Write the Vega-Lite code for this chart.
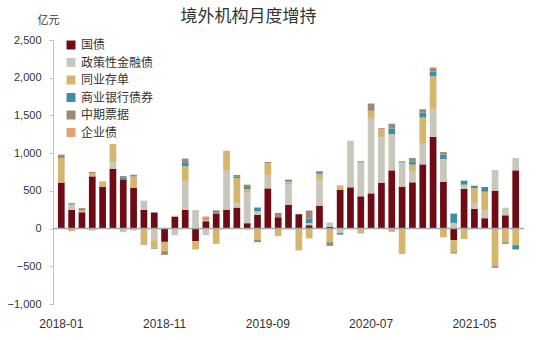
{
  "$schema": "https://vega.github.io/schema/vega-lite/v6.json",
  "width": 471,
  "height": 264,
  "autosize": "none",
  "padding": {"left": 53, "top": 40, "right": 26, "bottom": 36},
  "background": "white",
  "title": {"text": "境外机构月度增持", "font": "Noto Sans CJK SC", "fontSize": 17, "fontWeight": "normal", "color": "#333333", "anchor": "middle", "dx": -40, "offset": -12},
  "config": {"view": {"stroke": null}},
  "data": {"values": [
    {"m": "2018-01", "国债": 610, "同业存单": 325, "中期票据": 45},
    {"m": "2018-02", "国债": 247, "政策性金融债": 70, "中期票据": 20, "同业存单": -35},
    {"m": "2018-03", "国债": 216, "同业存单": 30, "中期票据": 25},
    {"m": "2018-04", "国债": 692, "同业存单": 44, "中期票据": 15, "政策性金融债": -30},
    {"m": "2018-05", "国债": 551, "同业存单": 75},
    {"m": "2018-06", "国债": 794, "政策性金融债": 84, "同业存单": 242},
    {"m": "2018-07", "国债": 652, "商业银行债券": 20, "中期票据": 25, "政策性金融债": -48},
    {"m": "2018-08", "国债": 538, "同业存单": 150, "中期票据": 26, "政策性金融债": -25},
    {"m": "2018-09", "国债": 247, "政策性金融债": 123, "同业存单": -203, "中期票据": -10},
    {"m": "2018-10", "国债": 212, "政策性金融债": -154, "同业存单": -101, "中期票据": -13},
    {"m": "2018-11", "国债": -176, "同业存单": -123, "中期票据": -50},
    {"m": "2018-12", "国债": 154, "同业存单": 17, "政策性金融债": -88},
    {"m": "2019-01", "国债": 247, "政策性金融债": 380, "同业存单": 200, "商业银行债券": 53, "中期票据": 48},
    {"m": "2019-02", "国债": -168, "政策性金融债": 229, "同业存单": -110, "中期票据": 10},
    {"m": "2019-03", "国债": 97, "同业存单": 25, "中期票据": 25, "企业债": 15, "政策性金融债": -88},
    {"m": "2019-04", "国债": 194, "中期票据": 48, "同业存单": -203},
    {"m": "2019-05", "国债": 251, "政策性金融债": 516, "同业存单": 265},
    {"m": "2019-06", "国债": 278, "政策性金融债": 53, "同业存单": 340, "商业银行债券": 22, "中期票据": 18},
    {"m": "2019-07", "国债": 71, "政策性金融债": 410, "同业存单": 44, "商业银行债券": 26, "中期票据": 31, "企业债": -12},
    {"m": "2019-08", "国债": 181, "政策性金融债": 48, "商业银行债券": 50, "同业存单": -145, "中期票据": -35},
    {"m": "2019-09", "国债": 533, "政策性金融债": 168, "同业存单": 168, "中期票据": 13},
    {"m": "2019-10", "国债": 150, "中期票据": 57, "同业存单": -101},
    {"m": "2019-11", "国债": 313, "政策性金融债": 278, "同业存单": 35, "商业银行债券": 22, "企业债": -10},
    {"m": "2019-12", "国债": 190, "同业存单": -291},
    {"m": "2020-01", "国债": 44, "政策性金融债": 30, "商业银行债券": 55, "中期票据": 110, "同业存单": -132},
    {"m": "2020-02", "国债": 304, "政策性金融债": 353, "同业存单": 70, "商业银行债券": 31},
    {"m": "2020-03", "国债": 25, "政策性金融债": 55, "同业存单": -180, "中期票据": -50},
    {"m": "2020-04", "国债": 516, "同业存单": 57, "政策性金融债": -60, "商业银行债券": -20},
    {"m": "2020-05", "国债": 547, "政策性金融债": 617, "同业存单": -10},
    {"m": "2020-06", "国债": 428, "政策性金融债": 450, "商业银行债券": 13, "同业存单": -66},
    {"m": "2020-07", "国债": 467, "政策性金融债": 997, "同业存单": 97, "中期票据": 97},
    {"m": "2020-08", "国债": 608, "政策性金融债": 600, "同业存单": 115, "中期票据": 10},
    {"m": "2020-09", "国债": 772, "政策性金融债": 481, "商业银行债券": 75, "中期票据": 62, "同业存单": -44},
    {"m": "2020-10", "国债": 556, "政策性金融债": 322, "商业银行债券": 13, "同业存单": -322, "中期票据": -10},
    {"m": "2020-11", "国债": 613, "政策性金融债": 150, "同业存单": 84, "商业银行债券": 44, "中期票据": 44},
    {"m": "2020-12", "国债": 851, "政策性金融债": 273, "同业存单": 348, "商业银行债券": 66, "中期票据": 44},
    {"m": "2021-01", "国债": 1217, "政策性金融债": 370, "同业存单": 432, "商业银行债券": 62, "中期票据": 53},
    {"m": "2021-02", "国债": 622, "政策性金融债": 300, "商业银行债券": 57, "中期票据": 35, "同业存单": -115},
    {"m": "2021-03", "国债": -154, "政策性金融债": 75, "商业银行债券": 123, "同业存单": -159, "中期票据": -18},
    {"m": "2021-04", "国债": 525, "政策性金融债": 57, "商业银行债券": 53, "同业存单": -137},
    {"m": "2021-05", "国债": 260, "政策性金融债": 70, "同业存单": 207, "商业银行债券": 31},
    {"m": "2021-06", "国债": 137, "政策性金融债": 101, "同业存单": 251, "商业银行债券": 62},
    {"m": "2021-07", "国债": 503, "政策性金融债": 256, "商业银行债券": 9, "同业存单": -498, "中期票据": -22},
    {"m": "2021-08", "国债": 176, "政策性金融债": 101, "同业存单": -181, "中期票据": -22},
    {"m": "2021-09", "国债": 772, "政策性金融债": 163, "同业存单": -220, "商业银行债券": -57}
  ]},
  "layer": [
    {
      "transform": [
        {"fold": ["国债", "政策性金融债", "同业存单", "商业银行债券", "中期票据", "企业债"], "as": ["类型", "值"]},
        {"filter": "isValid(datum['值'])"},
        {"calculate": "indexof(['国债','政策性金融债','同业存单','商业银行债券','中期票据','企业债'], datum['类型'])", "as": "k"}
      ],
      "mark": {"type": "bar"},
      "encoding": {
        "x": {
          "field": "m", "type": "ordinal",
          "scale": {"paddingInner": 0.35, "paddingOuter": 0.478},
          "axis": {"values": ["2018-01", "2018-11", "2019-09", "2020-07", "2021-05"], "bandPosition": 0, "domain": false, "ticks": false, "labelPadding": 14, "labelFontSize": 12, "labelColor": "#333333", "labelAngle": 0, "labelFont": "Liberation Sans", "title": null}
        },
        "y": {
          "field": "值", "type": "quantitative", "stack": "zero",
          "scale": {"domain": [-1000, 2500], "nice": false},
          "axis": {"values": [-1000, -500, 0, 500, 1000, 1500, 2000, 2500], "tickCount": 8, "format": ",.0f", "labelOverlap": false, "grid": false, "domainColor": "#c0c0c0", "tickColor": "#c0c0c0", "tickSize": 4, "labelPadding": 8, "labelFontSize": 11, "labelColor": "#333333", "labelFont": "Liberation Sans", "title": "亿元", "titleAngle": 0, "titleX": -5, "titleY": -20, "titleAlign": "center", "titleBaseline": "middle", "titleFont": "Noto Sans CJK SC", "titleFontSize": 11, "titleFontWeight": "normal", "titleColor": "#333333"}
        },
        "color": {
          "field": "类型", "type": "nominal",
          "scale": {"domain": ["国债", "政策性金融债", "同业存单", "商业银行债券", "中期票据", "企业债"], "range": ["#6E0B14", "#C9C7BC", "#D6B56E", "#3E8FA3", "#9C8878", "#E8A070"]},
          "legend": {"title": null, "orient": "none", "legendX": 12, "legendY": -1, "symbolType": "square", "symbolSize": 80, "symbolStrokeWidth": 0, "labelFont": "Noto Sans CJK SC", "labelFontSize": 12, "labelColor": "#333333", "rowPadding": 5.5, "labelOffset": 4}
        },
        "order": {"field": "k", "type": "quantitative"}
      }
    },
    {
      "data": {"values": [{}]},
      "mark": {"type": "rule", "color": "#a6a6a6", "strokeWidth": 1.5},
      "encoding": {
        "y": {
          "datum": 0, "type": "quantitative",
          "axis": {"values": [-1000, -500, 0, 500, 1000, 1500, 2000, 2500], "tickCount": 8, "format": ",.0f", "labelOverlap": false, "grid": false, "domainColor": "#c0c0c0", "tickColor": "#c0c0c0", "tickSize": 4, "labelPadding": 8, "labelFontSize": 11, "labelColor": "#333333", "labelFont": "Liberation Sans", "title": "亿元", "titleAngle": 0, "titleX": -5, "titleY": -20, "titleAlign": "center", "titleBaseline": "middle", "titleFont": "Noto Sans CJK SC", "titleFontSize": 11, "titleFontWeight": "normal", "titleColor": "#333333"}
        }
      }
    }
  ]
}
